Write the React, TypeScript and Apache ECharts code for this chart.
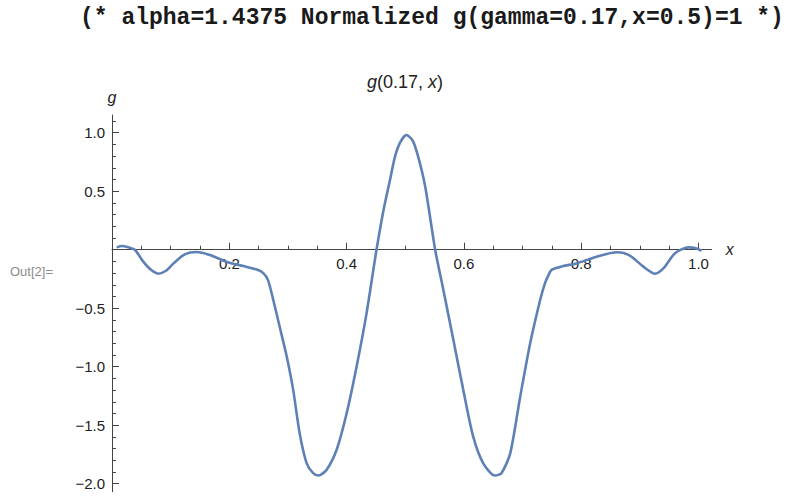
import React, { useEffect, useRef } from 'react';
import * as echarts from 'echarts';

const headerText = '(* alpha=1.4375 Normalized g(gamma=0.17,x=0.5)=1 *)';
const plotTitle = '{i|g}(0.17, {i|x})';
const outLabel = 'Out[2]=';

const xValues = [0.008, 0.017, 0.028, 0.039, 0.053, 0.066, 0.079, 0.092, 0.105, 0.124, 0.144, 0.167, 0.196, 0.224, 0.247, 0.258, 0.266, 0.275, 0.286, 0.298, 0.309, 0.32, 0.332, 0.343, 0.352, 0.366, 0.383, 0.4, 0.417, 0.434, 0.451, 0.463, 0.474, 0.4825, 0.492, 0.502, 0.5127, 0.522, 0.534, 0.551, 0.565, 0.582, 0.599, 0.616, 0.633, 0.653, 0.664, 0.679, 0.696, 0.713, 0.73, 0.738, 0.744, 0.75, 0.769, 0.792, 0.826, 0.861, 0.883, 0.906, 0.926, 0.94, 0.96, 0.983, 0.997, 1.005];
const gValues = [0.02, 0.032, 0.02, 0.0, -0.1, -0.17, -0.205, -0.18, -0.117, -0.04, -0.02, -0.045, -0.105, -0.14, -0.17, -0.2, -0.26, -0.43, -0.66, -0.915, -1.2, -1.57, -1.826, -1.91, -1.93, -1.88, -1.71, -1.4, -1.0, -0.544, 0.0, 0.34, 0.596, 0.795, 0.923, 0.98, 0.932, 0.795, 0.54, 0.0, -0.344, -0.77, -1.2, -1.6, -1.826, -1.93, -1.91, -1.74, -1.256, -0.8, -0.43, -0.29, -0.22, -0.17, -0.14, -0.117, -0.06, -0.022, -0.05, -0.145, -0.205, -0.16, -0.03, 0.02, 0.01, -0.01];

const xMajorTicks = [0.2, 0.4, 0.6, 0.8, 1.0];
const xMinorTicks = [0.05, 0.1, 0.15, 0.25, 0.3, 0.35, 0.45, 0.5, 0.55, 0.65, 0.7, 0.75, 0.85, 0.9, 0.95];
const yMajorTicks = [-2.0, -1.5, -1.0, -0.5, 0.5, 1.0];
const yMinorTicks = [-1.9, -1.8, -1.7, -1.6, -1.4, -1.3, -1.2, -1.1, -0.9, -0.8, -0.7, -0.6, -0.4, -0.3, -0.2, -0.1, 0.1, 0.2, 0.3, 0.4, 0.6, 0.7, 0.8, 0.9, 1.1];

const X_MIN = 0;
const X_MAX = 1.0225;
const Y_MIN = -2.068;
const Y_MAX = 1.151;

const GRID_TOP = 115;
const GRID_BOTTOM = 5.3;
const CHART_H = 497;
// pixel distance from grid bottom up to the y = 0 line
const plotH = CHART_H - GRID_TOP - GRID_BOTTOM;
const zeroOffset = -plotH * (0 - Y_MIN) / (Y_MAX - Y_MIN);

const AXIS_COLOR = '#444';
const LABEL_COLOR = '#222';
const FONT = '"Liberation Sans", Arial, sans-serif';

const fmt = (v: number) => {
  const s = Number(v).toFixed(1);
  return s.startsWith('-') ? '\u2212' + s.slice(1) : s;
};

export default function App() {
  const ref = useRef<HTMLDivElement>(null);
  useEffect(() => {
    if (!ref.current) return;
    const chart = echarts.init(ref.current, undefined, { renderer: 'svg' });
    const commonX = { type: 'value', min: X_MIN, max: X_MAX, position: 'bottom', offset: zeroOffset };
    const commonY = { type: 'value', min: Y_MIN, max: Y_MAX, position: 'left' };
    chart.setOption({
      animation: false,
      backgroundColor: '#fff',
      grid: { left: 112, right: 90.3, top: GRID_TOP, bottom: GRID_BOTTOM, containLabel: false, outerBoundsMode: 'none' },
      xAxis: [
        {
          ...commonX,
          name: 'x',
          nameLocation: 'end',
          nameGap: 14,
          nameTextStyle: { fontStyle: 'italic', fontSize: 16, color: LABEL_COLOR, fontFamily: FONT },
          axisLine: { show: true, onZero: false, lineStyle: { color: AXIS_COLOR, width: 1 } },
          axisTick: { show: true, inside: true, length: 7, customValues: xMajorTicks, lineStyle: { color: AXIS_COLOR } },
          axisLabel: { show: true, customValues: xMajorTicks, formatter: fmt, margin: 6, fontSize: 15, color: LABEL_COLOR, fontFamily: FONT },
          splitLine: { show: false },
        },
        {
          ...commonX,
          axisLine: { show: true, onZero: false, lineStyle: { opacity: 0 } },
          axisTick: { show: true, inside: true, length: 4, customValues: xMinorTicks, lineStyle: { color: AXIS_COLOR } },
          axisLabel: { show: false },
          splitLine: { show: false },
        },
      ],
      yAxis: [
        {
          ...commonY,
          name: 'g',
          nameLocation: 'end',
          nameGap: 10,
          nameTextStyle: { fontStyle: 'italic', fontSize: 16, color: LABEL_COLOR, fontFamily: FONT },
          axisLine: { show: true, onZero: false, lineStyle: { color: AXIS_COLOR, width: 1 } },
          axisTick: { show: true, inside: true, length: 7, customValues: yMajorTicks, lineStyle: { color: AXIS_COLOR } },
          axisLabel: { show: true, customValues: yMajorTicks, formatter: fmt, margin: 7, fontSize: 15, color: LABEL_COLOR, fontFamily: FONT },
          splitLine: { show: false },
        },
        {
          ...commonY,
          axisLine: { show: true, onZero: false, lineStyle: { opacity: 0 } },
          axisTick: { show: true, inside: true, length: 4, customValues: yMinorTicks, lineStyle: { color: AXIS_COLOR } },
          axisLabel: { show: false },
          splitLine: { show: false },
        },
      ],
      graphic: [
        {
          type: 'text',
          x: 80,
          y: 18,
          style: {
            text: headerText,
            font: 'bold 23px "Liberation Mono", "Courier New", monospace',
            fill: '#1a1a1a',
            textAlign: 'left',
            textVerticalAlign: 'middle',
          },
        },
        {
          type: 'text',
          x: 405,
          y: 82,
          style: {
            text: plotTitle,
            fontSize: 18,
            fontFamily: FONT,
            fill: LABEL_COLOR,
            textAlign: 'center',
            textVerticalAlign: 'middle',
            rich: { i: { fontStyle: 'italic', fontSize: 18, fontFamily: FONT, fill: LABEL_COLOR } },
          },
        },
        {
          type: 'text',
          x: 10,
          y: 271,
          style: {
            text: outLabel,
            fontSize: 13,
            fontFamily: FONT,
            fill: '#8c8c8c',
            textAlign: 'left',
            textVerticalAlign: 'middle',
          },
        },
      ],
      series: [
        {
          type: 'line',
          xAxisIndex: 0,
          yAxisIndex: 0,
          data: xValues.map((x, i) => [x, gValues[i]]),
          showSymbol: false,
          symbol: 'none',
          smooth: 0.25,
          clip: false,
          lineStyle: { color: '#5E81B5', width: 2.6 },
        },
      ],
    });
    return () => chart.dispose();
  }, []);
  return <div ref={ref} style={{ position: 'fixed', left: 0, top: 0, width: 802, height: 497 }} />;
}
